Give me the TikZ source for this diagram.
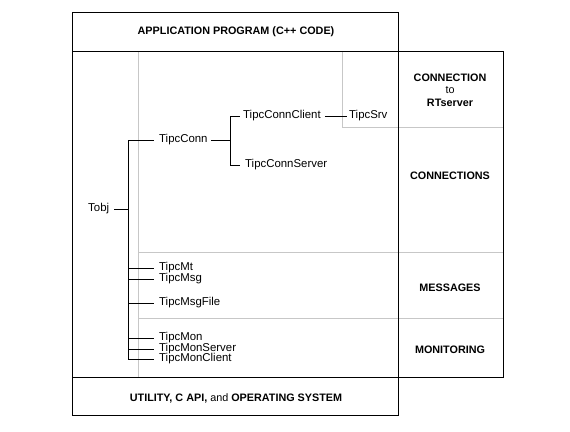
\documentclass[tikz,border=0pt]{standalone}
\usepackage{fontspec}
\setmainfont{Liberation Sans}
\usetikzlibrary{positioning, calc}

\begin{document}
\begin{tikzpicture}[x=1pt, y=-1pt, font=\fontsize{11.4}{12}\selectfont,
  band/.style={draw, line width=0.9pt},
  grid/.style={draw=black!22, line width=0.5pt},
  cls/.style={anchor=west, inner sep=1pt, yshift=-1pt},
  lbl/.style={font=\fontsize{10.8}{12.5}\selectfont\bfseries, align=center, yshift=-1pt},
  twig/.style={line width=0.6pt}]
  \useasboundingbox (0,0) rectangle (570,431);
  % light layer grid
  \draw[grid] (138,51) -- (138,377);
  \draw[grid] (138,252) -- (503,252);
  \draw[grid] (138,318) -- (503,318);
  \draw[grid] (342,51) -- (342,127) -- (503,127);
  % frames
  \draw[band] (72,12) rectangle (398,415);
  \draw[band] (72,51) -- (398,51);
  \draw[band] (72,377) -- (398,377);
  \draw[band] (398,51) rectangle (503,377);
  % band and column labels
  \node[lbl] (app) at (236,31) {APPLICATION PROGRAM (C++ CODE)};
  \node[lbl] (util) at (236,397) {UTILITY, C API, {\mdseries and} OPERATING SYSTEM};
  \node[lbl] (rts) at (450,89) {CONNECTION\\{\mdseries to}\\RTserver};
  \node[lbl] (conns) at (450,175) {CONNECTIONS};
  \node[lbl] (msgs) at (450,287) {MESSAGES};
  \node[lbl] (mons) at (450,349) {MONITORING};
  % class tree
  \node[cls] (tobj) at (87,208) {Tobj};
  \coordinate (trunk) at (128,208);
  \node[cls] (conn) at (158,139) {TipcConn};
  \node[cls] (mt) at (158,267) {TipcMt};
  \node[cls] (msg) at (158,278) {TipcMsg};
  \node[cls] (msgfile) at (158,302) {TipcMsgFile};
  \node[cls] (mon) at (158,337) {TipcMon};
  \node[cls] (monsrv) at (158,348) {TipcMonServer};
  \node[cls] (moncli) at (158,358) {TipcMonClient};
  \node[cls] (client) at (242,115) {TipcConnClient};
  \node[cls] (server) at (244,164) {TipcConnServer};
  \node[cls] (srv) at (348,115) {TipcSrv};
  \coordinate (fork) at (230,139);
  \draw[twig] ([xshift=4]tobj.east) -- (tobj.east -| trunk);
  \draw[twig] (conn.west -| trunk) -- (moncli.west -| trunk);
  \foreach \n in {conn, mt, msg, msgfile, mon, monsrv, moncli}
    \draw[twig] (\n.west -| trunk) -- ([xshift=-4]\n.west);
  \draw[twig] ([xshift=2]conn.east) -- (conn.east -| fork);
  \draw[twig] (client.west -| fork) -- (server.west -| fork);
  \draw[twig] (client.west -| fork) -- ([xshift=-2]client.west);
  \draw[twig] (server.west -| fork) -- ([xshift=-4]server.west);
  \draw[twig] ([xshift=3]client.east) -- ([xshift=-1]srv.west);
\end{tikzpicture}
\end{document}
